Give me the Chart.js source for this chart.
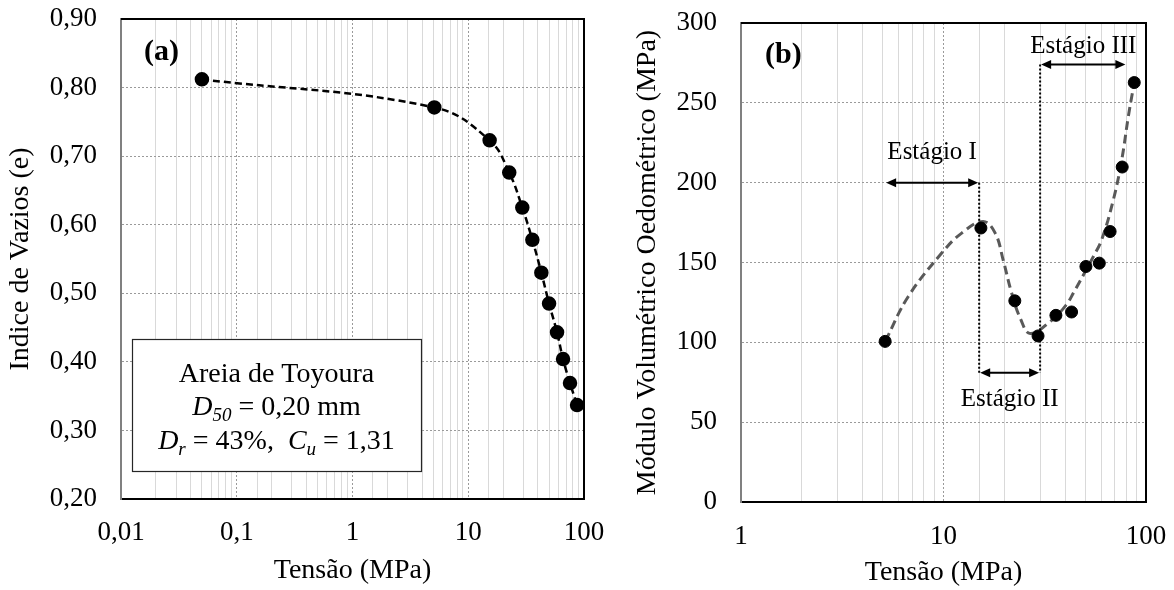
<!DOCTYPE html>
<html><head><meta charset="utf-8">
<script src="https://cdn.jsdelivr.net/npm/chart.js@4.4.1/dist/chart.umd.min.js"></script>
<style>
html,body{margin:0;padding:0;background:#fff;}
#wrap{position:relative;width:1174px;height:590px;background:#fff;}
canvas{position:absolute;left:0;top:0;}
</style></head><body>
<div id="wrap"><canvas id="ca" width="1174" height="590"></canvas><canvas id="cb" width="1174" height="590"></canvas></div>
<script>
// ---------- data: chart (a) ----------
const stressA = [0.05, 5.09, 15.3, 22.6, 29.3, 35.8, 42.8, 49.9, 58.5, 65.9, 75.7, 87.1];
const voidRatio = [0.812, 0.771, 0.723, 0.676, 0.625, 0.578, 0.530, 0.485, 0.443, 0.404, 0.369, 0.337];
const xTickLabelsA = ['0,01', '0,1', '1', '10', '100'];
const yTickLabelsA = ['0,20', '0,30', '0,40', '0,50', '0,60', '0,70', '0,80', '0,90'];
const boxTitle = 'Areia de Toyoura';
const boxD50 = ['D', '50', ' = 0,20 mm'];
const boxDrCu = ['D', 'r', ' = 43%,  ', 'C', 'u', ' = 1,31'];

// ---------- data: chart (b) ----------
const stressB = [5.15, 15.3, 22.5, 29.3, 35.9, 42.9, 50.5, 58.8, 66.5, 76.3, 87.5];
const modulusB = [100.6, 171.6, 126, 104, 116.9, 119, 147.5, 149.6, 169.4, 209.8, 262.7];
const trendStress = [5.15, 6.7, 9.8, 12.3, 15.7, 18, 19.7, 21.7, 24.1, 26.8, 33.6, 40.4, 43.8, 55, 60.4, 69, 75.9, 81.8, 87.5];
const trendModulus = [100.6, 128.7, 155.9, 168.4, 175.7, 168.4, 151.7, 130.9, 114.2, 105.5, 113, 123.5, 130.9, 153.8, 164.2, 189.3, 214.3, 241.5, 262.7];
const xTickLabelsB = ['1', '10', '100'];
const yTickLabelsB = ['0', '50', '100', '150', '200', '250', '300'];
const stageNames = ['Estágio I', 'Estágio II', 'Estágio III'];
const stageFrom = [5.15, 15, 30];
const stageTo = [15, 30, 80];
const stageLevel = [200, 81, 274];

// ---------- helpers ----------
const FONT = "'Liberation Serif', 'Times New Roman', serif";
function isDecade(v) { const l = Math.log10(v); return Math.abs(l - Math.round(l)) < 1e-9; }
function gridX() {
  return {
    color: c => (c.tick && isDecade(c.tick.value)) ? '#9a9a9a' : '#d9d9d9',
    lineWidth: 1, drawTicks: false
  };
}
function borderX() {
  return { display: true, color: '#000', width: 2, dash: c => (c.tick && isDecade(c.tick.value)) ? [2, 2] : [] };
}

const framePlugin = {
  id: 'frame',
  afterDraw(chart) {
    const { ctx, chartArea: a } = chart;
    ctx.save();
    ctx.strokeStyle = '#000'; ctx.lineWidth = 2;
    ctx.beginPath(); ctx.moveTo(a.left, a.top); ctx.lineTo(a.right, a.top); ctx.lineTo(a.right, a.bottom); ctx.stroke();
    ctx.restore();
  }
};

function drawRuns(ctx, runs, cx, baseline, size) {
  // runs: [text, italic, subscript]
  const parts = runs.map(r => {
    const s = r[2] ? size * 0.68 : size;
    const f = (r[1] ? 'italic ' : '') + s + 'px ' + FONT;
    ctx.font = f;
    return { t: r[0], f, w: ctx.measureText(r[0]).width, dy: r[2] ? size * 0.22 : 0 };
  });
  const total = parts.reduce((s, p) => s + p.w, 0);
  let x = cx - total / 2;
  ctx.textAlign = 'left'; ctx.textBaseline = 'alphabetic';
  parts.forEach(p => { ctx.font = p.f; ctx.fillText(p.t, x, baseline + p.dy); x += p.w; });
}

const annotA = {
  id: 'annotA',
  afterDatasetsDraw(chart) {
    const { ctx, chartArea: a } = chart;
    ctx.save();
    // text box
    const bx = a.left + 11, by = 339, bw = 289, bh = 132;
    ctx.fillStyle = '#fff'; ctx.fillRect(bx, by, bw, bh);
    ctx.strokeStyle = '#262626'; ctx.lineWidth = 1.2; ctx.strokeRect(bx + 0.5, by + 0.5, bw, bh);
    ctx.fillStyle = '#000';
    const cx = bx + bw / 2;
    drawRuns(ctx, [[boxTitle, false, false]], cx, 382, 28);
    drawRuns(ctx, [[boxD50[0], true, false], [boxD50[1], true, true], [boxD50[2], false, false]], cx, 415, 28);
    drawRuns(ctx, [[boxDrCu[0], true, false], [boxDrCu[1], true, true], [boxDrCu[2], false, false],
                   [boxDrCu[3], true, false], [boxDrCu[4], true, true], [boxDrCu[5], false, false]], cx, 448.5, 28);
    // panel label
    ctx.font = 'bold 30px ' + FONT; ctx.textAlign = 'left'; ctx.textBaseline = 'alphabetic';
    ctx.fillText('(a)', a.left + 23, 60);
    ctx.restore();
  }
};

function arrowHead(ctx, x, y, dir) {
  ctx.beginPath(); ctx.moveTo(x, y); ctx.lineTo(x + dir * 10, y - 4.5); ctx.lineTo(x + dir * 10, y + 4.5); ctx.closePath(); ctx.fill();
}
const annotB = {
  id: 'annotB',
  afterDatasetsDraw(chart) {
    const { ctx, chartArea: a, scales: { x, y } } = chart;
    ctx.save();
    ctx.strokeStyle = '#000'; ctx.fillStyle = '#000';
    // dotted stage boundaries
    ctx.lineWidth = 2; ctx.setLineDash([2, 2]);
    ctx.beginPath();
    ctx.moveTo(x.getPixelForValue(stageTo[0]), y.getPixelForValue(stageLevel[0]));
    ctx.lineTo(x.getPixelForValue(stageTo[0]), y.getPixelForValue(stageLevel[1]));
    ctx.moveTo(x.getPixelForValue(stageFrom[2]), y.getPixelForValue(stageLevel[2]));
    ctx.lineTo(x.getPixelForValue(stageFrom[2]), y.getPixelForValue(stageLevel[1]));
    ctx.stroke();
    ctx.setLineDash([]);
    const textDy = [-23.5, 33.5, -12];
    ctx.font = '25px ' + FONT; ctx.textAlign = 'center'; ctx.textBaseline = 'alphabetic';
    stageNames.forEach((n, i) => {
      const x1 = x.getPixelForValue(stageFrom[i]) + 1, x2 = x.getPixelForValue(stageTo[i]) - 1;
      const yy = y.getPixelForValue(stageLevel[i]);
      ctx.lineWidth = 2;
      ctx.beginPath(); ctx.moveTo(x1 + 8, yy); ctx.lineTo(x2 - 8, yy); ctx.stroke();
      arrowHead(ctx, x1, yy, 1); arrowHead(ctx, x2, yy, -1);
      ctx.fillText(n, (x1 + x2) / 2, yy + textDy[i]);
    });
    ctx.font = 'bold 30px ' + FONT; ctx.textAlign = 'left';
    ctx.fillText('(b)', a.left + 24, 63);
    ctx.restore();
  }
};

Chart.defaults.font.family = FONT;
Chart.defaults.color = '#000';

// ---------- chart (a) ----------
new Chart(document.getElementById('ca'), {
  type: 'line',
  data: {
    datasets: [{
      data: stressA.map((s, i) => ({ x: s, y: voidRatio[i] })),
      borderColor: '#000', borderWidth: 2.5, borderDash: [7, 4],
      pointRadius: 6, pointHoverRadius: 6, pointBackgroundColor: '#000', pointBorderColor: '#000',
      tension: 0.4, fill: false
    }]
  },
  options: {
    responsive: false, animation: false, devicePixelRatio: 1,
    layout: { padding: { left: 0, top: 19, right: 590, bottom: 0 } },
    plugins: { legend: { display: false }, tooltip: { enabled: false } },
    scales: {
      x: {
        type: 'logarithmic', min: 0.01, max: 100,
        grid: gridX(), border: borderX(),
        ticks: {
          autoSkip: false, maxRotation: 0, padding: 18, font: { size: 27 }, color: '#000',
          callback: v => isDecade(v) ? xTickLabelsA[Math.round(Math.log10(v)) + 2] : ''
        },
        title: { display: true, text: 'Tensão (MPa)', font: { size: 28 }, color: '#000', padding: { top: 0, bottom: 3 } },
        afterFit(s) { s.height = 91; s.paddingLeft = 0; s.paddingRight = 0; }
      },
      y: {
        min: 0.2, max: 0.9,
        grid: { color: '#9a9a9a', lineWidth: 1, drawTicks: false },
        border: { display: true, color: '#808080', width: 2, dash: c => c.tick ? [2, 2] : [] },
        ticks: {
          stepSize: 0.1, padding: 24, font: { size: 27 }, color: '#000',
          callback: (v, i) => yTickLabelsA[i]
        },
        title: { display: true, text: 'Indice de Vazios (e)', font: { size: 28 }, color: '#000', padding: { top: 4, bottom: 0 } },
        afterFit(s) { s.width = 121; s.paddingTop = 0; s.paddingBottom = 0; }
      }
    }
  },
  plugins: [annotA, framePlugin]
});

// ---------- chart (b) ----------
new Chart(document.getElementById('cb'), {
  type: 'line',
  data: {
    datasets: [{
      type: 'scatter',
      data: stressB.map((s, i) => ({ x: s, y: modulusB[i] })),
      showLine: false, pointRadius: 6, pointHoverRadius: 6,
      pointBackgroundColor: '#000', pointBorderColor: '#000', order: 0
    }, {
      data: trendStress.map((s, i) => ({ x: s, y: trendModulus[i] })),
      borderColor: '#595959', borderWidth: 3, borderDash: [9, 5],
      pointRadius: 0, tension: 0.4, fill: false, order: 1
    }]
  },
  options: {
    responsive: false, animation: false, devicePixelRatio: 1,
    layout: { padding: { left: 600, top: 23, right: 28, bottom: 0 } },
    plugins: { legend: { display: false }, tooltip: { enabled: false } },
    scales: {
      x: {
        type: 'logarithmic', min: 1, max: 100,
        grid: gridX(), border: borderX(),
        ticks: {
          autoSkip: false, maxRotation: 0, padding: 19, font: { size: 27 }, color: '#000',
          callback: v => isDecade(v) ? xTickLabelsB[Math.round(Math.log10(v))] : ''
        },
        title: { display: true, text: 'Tensão (MPa)', font: { size: 28 }, color: '#000', padding: { top: 0, bottom: 1 } },
        afterFit(s) { s.height = 88; s.paddingLeft = 0; s.paddingRight = 0; }
      },
      y: {
        min: 0, max: 300,
        grid: { color: '#9a9a9a', lineWidth: 1, drawTicks: false },
        border: { display: true, color: '#808080', width: 2, dash: c => c.tick ? [2, 2] : [] },
        ticks: {
          stepSize: 50, padding: 24, font: { size: 27 }, color: '#000',
          callback: (v, i) => yTickLabelsB[i]
        },
        title: { display: true, text: 'Módulo Volumétrico Oedométrico (MPa)', font: { size: 28 }, color: '#000', padding: { top: 31, bottom: 0 } },
        afterFit(s) { s.width = 141; s.paddingTop = 0; s.paddingBottom = 0; }
      }
    }
  },
  plugins: [annotB, framePlugin]
});
</script>
</body></html>
